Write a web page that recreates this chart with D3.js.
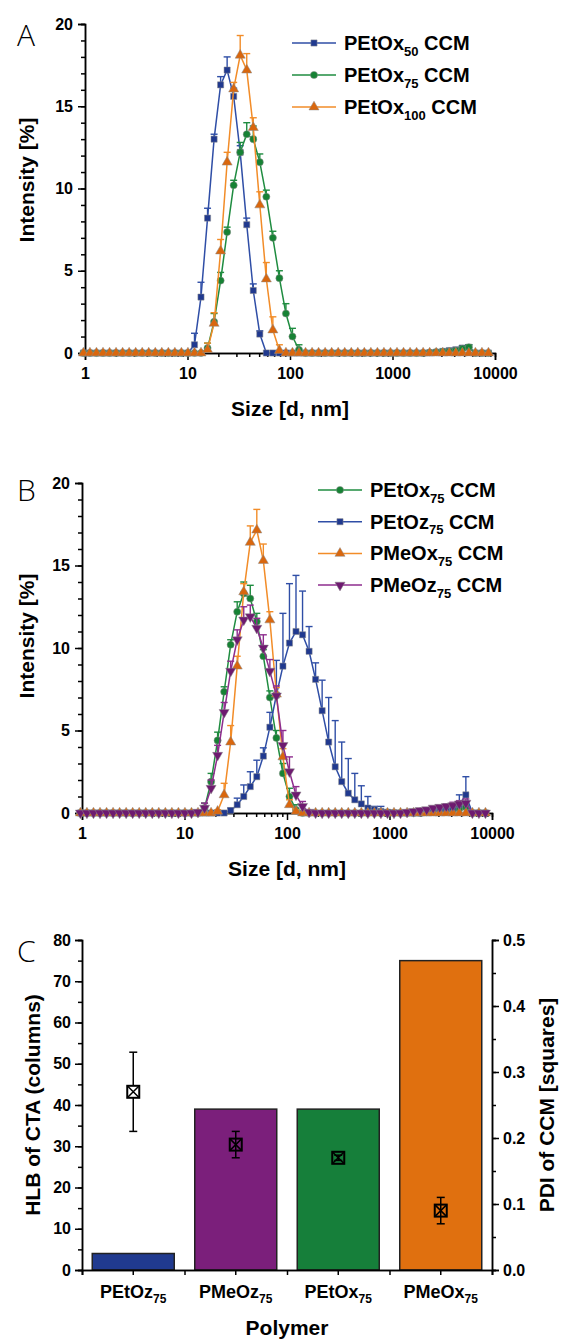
<!DOCTYPE html>
<html>
<head>
<meta charset="utf-8">
<script src="https://cdn.jsdelivr.net/npm/d3@7"></script>
<style>
body { margin: 0; background: #fff; }
svg { display: block; font-family: 'Liberation Sans', Arial, sans-serif; }
</style>
</head>
<body>
<svg id="chart" width="561" height="1339"></svg>
<script>
// DLS size bins (nm)
const sizes = [
	0.9649, 1.117, 1.294, 1.499, 1.736, 2.01, 2.328, 2.696, 3.122, 3.615, 4.187, 4.849, 5.615, 6.503, 7.531, 8.721,
	10.1, 11.7, 13.54, 15.69, 18.17, 21.04, 24.36, 28.21, 32.67, 37.84, 43.82, 50.75, 58.77, 68.06, 78.82, 91.28,
	105.7, 122.4, 141.8, 164.2, 190.1, 220.2, 255, 295.3, 342, 396.1, 458.7, 531.2, 615.1, 712.4, 825, 955.4,
	1106, 1281, 1484, 1718, 1990, 2305, 2669, 3091, 3580, 4145, 4801, 5560, 6439, 7456, 8635
];

// intensity [%] and upper error
const petox50 = [
	0, 0, 0, 0, 0, 0, 0, 0, 0, 0, 0, 0, 0, 0, 0, 0,
	0, 0.5, 3.4, 8.2, 13.0, 16.3, 17.2, 15.6, 12.2, 7.8, 3.8, 1.15, 0, 0, 0, 0,
	0, 0, 0, 0, 0, 0, 0, 0, 0, 0, 0, 0, 0, 0, 0, 0,
	0, 0, 0, 0, 0, 0.02, 0.05, 0.1, 0.15, 0.2, 0.3, 0.35, 0, 0, 0
];
const petox50Err = [
	0, 0, 0, 0, 0, 0, 0, 0, 0, 0, 0, 0, 0, 0, 0, 0,
	0, 0.7, 0.9, 0.6, 0.3, 0.5, 0.8, 0.5, 0.4, 0.4, 0.4, 0.2, 0, 0, 0, 0,
	0, 0, 0, 0, 0, 0, 0, 0, 0, 0, 0, 0, 0, 0, 0, 0,
	0, 0, 0, 0, 0, 0, 0.05, 0.05, 0.1, 0.1, 0.15, 0.15, 0, 0, 0
];
const petox75 = [
	0, 0, 0, 0, 0, 0, 0, 0, 0, 0, 0, 0, 0, 0, 0, 0,
	0, 0, 0, 0.3, 1.9, 4.4, 7.35, 10.2, 12.2, 13.3, 13.0, 11.6, 9.5, 7.0, 4.55, 2.4,
	1.0, 0.2, 0, 0, 0, 0, 0, 0, 0, 0, 0, 0, 0, 0, 0, 0,
	0, 0, 0, 0, 0, 0.03, 0.05, 0.08, 0.1, 0.15, 0.25, 0.35, 0, 0, 0
];
const petox75Err = [
	0, 0, 0, 0, 0, 0, 0, 0, 0, 0, 0, 0, 0, 0, 0, 0,
	0, 0, 0, 0.3, 0.5, 0.5, 0.3, 0.3, 0.6, 0.7, 0.8, 0.5, 0.4, 0.4, 0.45, 0.6,
	0.5, 0.3, 0, 0, 0, 0, 0, 0, 0, 0, 0, 0, 0, 0, 0, 0,
	0, 0, 0, 0, 0, 0, 0.03, 0.05, 0.05, 0.1, 0.15, 0.15, 0, 0, 0
];
const petox100 = [
	0, 0, 0, 0, 0, 0, 0, 0, 0, 0, 0, 0, 0, 0, 0, 0,
	0, 0, 0, 0.2, 1.8, 6.2, 11.6, 16.05, 18.1, 17.2, 13.7, 9.0, 4.5, 1.4, 0.15, 0,
	0, 0, 0, 0, 0, 0, 0, 0, 0, 0, 0, 0, 0, 0, 0, 0,
	0, 0, 0, 0, 0, 0, 0, 0, 0, 0, 0, 0, 0, 0, 0
];
const petox100Err = [
	0, 0, 0, 0, 0, 0, 0, 0, 0, 0, 0, 0, 0, 0, 0, 0,
	0, 0, 0, 0.4, 0.65, 0.7, 0.6, 0.4, 1.2, 1.0, 0.6, 0.8, 1.0, 0.8, 0.35, 0,
	0, 0, 0, 0, 0, 0, 0, 0, 0, 0, 0, 0, 0, 0, 0, 0,
	0, 0, 0, 0, 0, 0, 0, 0, 0, 0, 0, 0, 0, 0, 0
];
const petoz75 = [
	0, 0, 0, 0, 0, 0, 0, 0, 0, 0, 0, 0, 0, 0, 0, 0,
	0, 0, 0, 0, 0, 0, 0, 0.15, 0.5, 1.0, 1.6, 2.2, 3.45, 5.2, 7.15, 8.9,
	10.3, 11.0, 10.8, 9.8, 8.1, 6.2, 4.3, 2.8, 1.9, 1.2, 0.8, 0.55, 0.3, 0.2, 0.1, 0.05,
	0.02, 0, 0, 0, 0, 0.05, 0.1, 0.15, 0.2, 0.3, 0.5, 1.1, 0, 0, 0
];
const petoz75Err = [
	0, 0, 0, 0, 0, 0, 0, 0, 0, 0, 0, 0, 0, 0, 0, 0,
	0, 0, 0, 0, 0, 0, 0, 0.15, 0.4, 0.7, 0.9, 1.0, 0.5, 0.9, 2.1, 3.2,
	3.6, 3.4, 2.65, 1.5, 1.0, 1.85, 2.7, 2.8, 2.4, 2.1, 1.6, 1.1, 0.7, 0.2, 0.3, 0.15,
	0, 0, 0, 0, 0, 0, 0.05, 0.1, 0.1, 0.2, 0.6, 1.1, 0, 0, 0
];
const pmeox75 = [
	0, 0, 0, 0, 0, 0, 0, 0, 0, 0, 0, 0, 0, 0, 0, 0,
	0, 0, 0, 0, 0, 0.1, 1.1, 4.3, 8.9, 13.4, 16.4, 17.15, 15.3, 11.7, 7.2, 3.4,
	0.5, 0.1, 0, 0, 0, 0, 0, 0, 0, 0, 0, 0, 0, 0, 0, 0,
	0, 0, 0, 0, 0, 0, 0, 0, 0, 0, 0, 0, 0, 0, 0
];
const pmeox75Err = [
	0, 0, 0, 0, 0, 0, 0, 0, 0, 0, 0, 0, 0, 0, 0, 0,
	0, 0, 0, 0, 0, 0.1, 0.7, 1.0, 0.6, 0.5, 1.0, 1.25, 1.0, 0.5, 0.4, 0.5,
	0.3, 0.1, 0, 0, 0, 0, 0, 0, 0, 0, 0, 0, 0, 0, 0, 0,
	0, 0, 0, 0, 0, 0, 0, 0, 0, 0, 0, 0, 0, 0, 0
];
const pmeoz75 = [
	0, 0, 0, 0, 0, 0, 0, 0, 0, 0, 0, 0, 0, 0, 0, 0,
	0, 0, 0.05, 0.3, 1.5, 3.5, 6.1, 8.6, 10.5, 11.7, 11.9, 11.2, 10.0, 8.6, 7.1, 4.1,
	2.5, 1.1, 0.4, 0.05, 0, 0, 0, 0, 0, 0, 0, 0, 0, 0, 0, 0,
	0, 0, 0.05, 0.1, 0.15, 0.2, 0.3, 0.35, 0.4, 0.45, 0.55, 0.6, 0, 0, 0
];
const pmeoz75Err = [
	0, 0, 0, 0, 0, 0, 0, 0, 0, 0, 0, 0, 0, 0, 0, 0,
	0, 0, 0, 0.3, 0.5, 0.6, 0.6, 0.6, 0.6, 0.8, 0.7, 0.6, 0.8, 0.7, 0.6, 0.9,
	0.9, 0.5, 0.3, 0, 0, 0, 0, 0, 0, 0, 0, 0, 0, 0, 0, 0,
	0, 0, 0, 0, 0, 0.05, 0.1, 0.1, 0.15, 0.2, 0.2, 0.25, 0, 0, 0
];

const sizeTicks = [1, 10, 100, 1000, 10000];
const intensityTicks = [0, 5, 10, 15, 20];

// panel C
const polymers = ['PEtOz', 'PMeOz', 'PEtOx', 'PMeOx'];
const hlb = [4, 39, 39, 75];
const pdi = [0.27, 0.19, 0.17, 0.09];
const pdiErr = [0.06, 0.02, 0.004, 0.02];
const hlbTicks = [0, 10, 20, 30, 40, 50, 60, 70, 80];
const pdiTicks = [0, 0.1, 0.2, 0.3, 0.4, 0.5];

const BLUE = { line: '#2f4ea6', fill: '#20398f' };
const GREEN = { line: '#1f8c40', fill: '#168234' };
const ORANGE = { line: '#f28c28', fill: '#d9670e' };
const PURPLE = { line: '#8e2d8e', fill: '#6e1a70' };
const barColors = ['#203a8f', '#7b1f7b', '#167f3a', '#e0700f'];

const $svg = d3.select('#chart');

function styleAxis($axis, fontSize) {
	$axis.select('.domain').attr('stroke', '#000').attr('stroke-width', 1.5);
	$axis.selectAll('.tick line').attr('stroke', '#000').attr('stroke-width', 1.5);
	$axis.selectAll('.tick text')
		.attr('fill', '#000')
		.attr('font-size', fontSize)
		.attr('font-weight', 'bold');
}

function marker(shape) {
	const types = { square: d3.symbolSquare, circle: d3.symbolCircle, tri: d3.symbolTriangle, itri: d3.symbolTriangle };
	const sz = { square: 38, circle: 40, tri: 44, itri: 44 }[shape];
	return d3.symbol().type(types[shape]).size(sz)();
}

function labelWithSub($g, x, y, main, sub, tail, size, subSize) {
	const $t = $g.append('text')
		.attr('x', x)
		.attr('y', y)
		.attr('font-size', size)
		.attr('font-weight', 'bold');
	$t.append('tspan').text(main);
	$t.append('tspan').attr('dy', size * 0.28).attr('font-size', subSize).text(sub);
	if (tail) $t.append('tspan').attr('dy', -size * 0.28).text(tail);
	return $t;
}

function drawDls(cfg) {
	const x = d3.scaleLog().domain([1, 10000]).range([cfg.left, cfg.right]);
	const y = d3.scaleLinear().domain([0, 20]).range([cfg.bottom, cfg.top]);
	const $g = $svg.append('g');

	// minor ticks
	const minorX = [];
	[1, 10, 100, 1000].forEach(d => { for (let k = 2; k < 10; k++) minorX.push(d * k); });
	$g.append('g')
		.attr('transform', `translate(0,${cfg.bottom})`)
		.call(d3.axisBottom(x).tickValues(minorX).tickSize(4).tickFormat(''))
		.call(a => styleAxis(a, 16));
	$g.append('g')
		.attr('transform', `translate(${cfg.left},0)`)
		.call(d3.axisLeft(y).tickValues(d3.range(0, 21, 1)).tickSize(4).tickFormat(''))
		.call(a => styleAxis(a, 16));

	$g.append('g')
		.attr('transform', `translate(0,${cfg.bottom})`)
		.call(d3.axisBottom(x).tickValues(sizeTicks).tickSize(7).tickPadding(8).tickFormat(d3.format('d')))
		.call(a => styleAxis(a, 16));
	$g.append('g')
		.attr('transform', `translate(${cfg.left},0)`)
		.call(d3.axisLeft(y).tickValues(intensityTicks).tickSize(7).tickPadding(5))
		.call(a => styleAxis(a, 16));

	const line = d3.line().x(d => x(d.s)).y(d => y(d.v));

	cfg.series.forEach(s => {
		const pts = sizes.map((d, i) => ({ s: d, v: s.values[i], e: s.err[i] }));
		const $s = $g.append('g');
		const errs = pts.filter(d => d.e > 0);
		$s.selectAll('line.err')
			.data(errs)
			.enter()
			.append('line')
			.attr('x1', d => x(d.s))
			.attr('x2', d => x(d.s))
			.attr('y1', d => y(d.v))
			.attr('y2', d => y(d.v + d.e))
			.attr('stroke', s.color.line)
			.attr('stroke-width', 1.4);
		$s.selectAll('line.cap')
			.data(errs)
			.enter()
			.append('line')
			.attr('x1', d => x(d.s) - 3.5)
			.attr('x2', d => x(d.s) + 3.5)
			.attr('y1', d => y(d.v + d.e))
			.attr('y2', d => y(d.v + d.e))
			.attr('stroke', s.color.line)
			.attr('stroke-width', 1.4);
		$s.append('path')
			.attr('d', line(pts))
			.attr('fill', 'none')
			.attr('stroke', s.color.line)
			.attr('stroke-width', 1.5);
		$s.selectAll('path.m')
			.data(pts)
			.enter()
			.append('path')
			.attr('d', marker(s.shape))
			.attr('transform', d => `translate(${x(d.s)},${y(d.v)})${s.shape === 'itri' ? ' rotate(180)' : ''}`)
			.attr('fill', s.color.fill)
			.attr('stroke', '#8a8a8a')
			.attr('stroke-width', 0.5);
	});

	// legend
	cfg.legendOrder.forEach((s, i) => {
		const ly = cfg.legend.y + i * cfg.legend.dy;
		$g.append('line')
			.attr('x1', cfg.legend.x)
			.attr('x2', cfg.legend.x + 44)
			.attr('y1', ly)
			.attr('y2', ly)
			.attr('stroke', s.color.line)
			.attr('stroke-width', 1.5);
		$g.append('path')
			.attr('d', marker(s.shape))
			.attr('transform', `translate(${cfg.legend.x + 22},${ly})${s.shape === 'itri' ? ' rotate(180)' : ''}`)
			.attr('fill', s.color.fill)
			.attr('stroke', '#8a8a8a')
			.attr('stroke-width', 0.5);
		labelWithSub($g, cfg.legend.x + 52, ly + 7, s.name, s.sub, ' CCM', 20, 13);
	});

	$g.append('text')
		.attr('x', (cfg.left + cfg.right) / 2)
		.attr('y', cfg.bottom + 63)
		.attr('text-anchor', 'middle')
		.attr('font-size', 21)
		.attr('font-weight', 'bold')
		.text('Size [d, nm]');
	$g.append('text')
		.attr('transform', `translate(34,${cfg.titleY}) rotate(-90)`)
		.attr('text-anchor', 'middle')
		.attr('font-size', 21)
		.attr('font-weight', 'bold')
		.text('Intensity [%]');
	$g.append('text')
		.attr('x', 17)
		.attr('y', cfg.letterY)
		.attr('font-family', "'Open Sans', 'DejaVu Sans', sans-serif")
		.attr('font-weight', 300)
		.attr('font-size', 30)
		.text(cfg.letter);
}

function drawBars() {
	const left = 82;
	const right = 492;
	const top = 940;
	const bottom = 1270;
	const x = d3.scaleBand().domain(polymers).range([left, right]).paddingInner(0.2).paddingOuter(0.1);
	const yL = d3.scaleLinear().domain([0, 80]).range([bottom, top]);
	const yR = d3.scaleLinear().domain([0, 0.5]).range([bottom, top]);
	const $g = $svg.append('g');

	$g.selectAll('rect')
		.data(polymers)
		.enter()
		.append('rect')
		.attr('x', d => x(d))
		.attr('width', x.bandwidth())
		.attr('y', (d, i) => yL(hlb[i]))
		.attr('height', (d, i) => bottom - yL(hlb[i]))
		.attr('fill', (d, i) => barColors[i])
		.attr('stroke', '#222')
		.attr('stroke-width', 1.5);

	// axes
	$g.append('g')
		.attr('transform', `translate(${left},0)`)
		.call(d3.axisLeft(yL).tickValues(d3.range(0, 81, 5)).tickSize(4).tickFormat(''))
		.call(a => styleAxis(a, 16));
	$g.append('g')
		.attr('transform', `translate(${left},0)`)
		.call(d3.axisLeft(yL).tickValues(hlbTicks).tickSize(7).tickPadding(4))
		.call(a => styleAxis(a, 16));
	$g.append('g')
		.attr('transform', `translate(${right},0)`)
		.call(d3.axisRight(yR).tickValues(d3.range(0, 0.51, 0.05)).tickSize(4).tickFormat(''))
		.call(a => styleAxis(a, 16));
	$g.append('g')
		.attr('transform', `translate(${right},0)`)
		.call(d3.axisRight(yR).tickValues(pdiTicks).tickSize(7).tickPadding(4).tickFormat(d3.format('.1f')))
		.call(a => styleAxis(a, 16));

	const bounds = d3.range(0, polymers.length + 1).map(i => left + i * x.step());
	$g.append('g')
		.attr('transform', `translate(0,${bottom})`)
		.call(d3.axisBottom(d3.scaleLinear().domain([left, right]).range([left, right])).tickValues(bounds).tickSize(5).tickFormat(''))
		.call(a => styleAxis(a, 16));
	$g.append('g')
		.attr('transform', `translate(0,${bottom})`)
		.call(d3.axisBottom(x).tickSize(5).tickFormat(''))
		.call(a => styleAxis(a, 16));

	polymers.forEach(p => {
		const $t = labelWithSub($g, x(p) + x.bandwidth() / 2, bottom + 28, p, '75', null, 18, 12);
		$t.attr('text-anchor', 'middle');
	});

	// PDI squares
	const cx = d => x(d) + x.bandwidth() / 2;
	const $p = $g.append('g');
	polymers.forEach((p, i) => {
		const xc = cx(p);
		const yc = yR(pdi[i]);
		const yt = yR(pdi[i] + pdiErr[i]);
		const yb = yR(pdi[i] - pdiErr[i]);
		$p.append('line').attr('x1', xc).attr('x2', xc).attr('y1', yt).attr('y2', yb)
			.attr('stroke', '#000').attr('stroke-width', 1.5);
		[yt, yb].forEach(yy => {
			$p.append('line').attr('x1', xc - 4).attr('x2', xc + 4).attr('y1', yy).attr('y2', yy)
				.attr('stroke', '#000').attr('stroke-width', 1.5);
		});
		const h = 6;
		$p.append('rect').attr('x', xc - h).attr('y', yc - h).attr('width', 2 * h).attr('height', 2 * h)
			.attr('fill', hlb[i] > 0 && yc > yL(hlb[i]) ? 'none' : '#fff')
			.attr('stroke', '#000').attr('stroke-width', 2);
		$p.append('path')
			.attr('d', `M${xc - h},${yc - h}L${xc + h},${yc + h}M${xc + h},${yc - h}L${xc - h},${yc + h}`)
			.attr('stroke', '#000').attr('stroke-width', 1.5);
	});

	$g.append('text')
		.attr('x', (left + right) / 2)
		.attr('y', 1335)
		.attr('text-anchor', 'middle')
		.attr('font-size', 21)
		.attr('font-weight', 'bold')
		.text('Polymer');
	$g.append('text')
		.attr('transform', `translate(40,${(top + bottom) / 2}) rotate(-90)`)
		.attr('text-anchor', 'middle')
		.attr('font-size', 21)
		.attr('font-weight', 'bold')
		.text('HLB of CTA (columns)');
	$g.append('text')
		.attr('transform', `translate(554,${(top + bottom) / 2}) rotate(-90)`)
		.attr('text-anchor', 'middle')
		.attr('font-size', 21)
		.attr('font-weight', 'bold')
		.text('PDI of CCM [squares]');
	$g.append('text')
		.attr('x', 17)
		.attr('y', 962)
		.attr('font-family', "'Open Sans', 'DejaVu Sans', sans-serif")
		.attr('font-weight', 300)
		.attr('font-size', 30)
		.text('C');
}

function init() {
	const sA = [
		{ name: 'PEtOx', sub: '50', values: petox50, err: petox50Err, color: BLUE, shape: 'square' },
		{ name: 'PEtOx', sub: '75', values: petox75, err: petox75Err, color: GREEN, shape: 'circle' },
		{ name: 'PEtOx', sub: '100', values: petox100, err: petox100Err, color: ORANGE, shape: 'tri' }
	];
	drawDls({
		left: 85, right: 495, top: 24, bottom: 353,
		letter: 'A', letterY: 46, titleY: 180,
		series: sA, legendOrder: sA,
		legend: { x: 292, y: 43, dy: 32 }
	});

	const bGreen = { name: 'PEtOx', sub: '75', values: petox75, err: petox75Err, color: GREEN, shape: 'circle' };
	const bBlue = { name: 'PEtOz', sub: '75', values: petoz75, err: petoz75Err, color: BLUE, shape: 'square' };
	const bOrange = { name: 'PMeOx', sub: '75', values: pmeox75, err: pmeox75Err, color: ORANGE, shape: 'tri' };
	const bPurple = { name: 'PMeOz', sub: '75', values: pmeoz75, err: pmeoz75Err, color: PURPLE, shape: 'itri' };
	drawDls({
		left: 82, right: 492, top: 483, bottom: 813,
		letter: 'B', letterY: 501, titleY: 636,
		series: [bGreen, bBlue, bOrange, bPurple],
		legendOrder: [bGreen, bBlue, bOrange, bPurple],
		legend: { x: 318, y: 490, dy: 31.7 }
	});

	drawBars();
}

init();
</script>
</body>
</html>
